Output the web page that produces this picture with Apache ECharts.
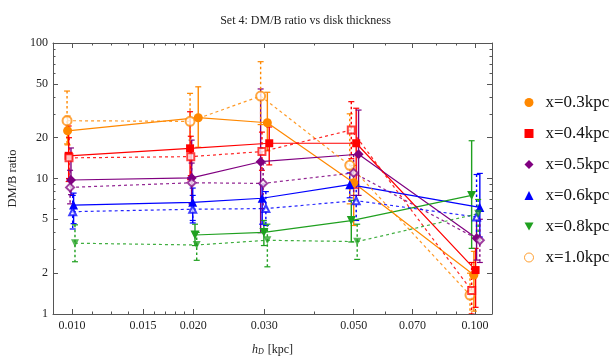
<!DOCTYPE html>
<html>
<head>
<meta charset="utf-8">
<script src="https://cdn.jsdelivr.net/npm/echarts@6/dist/echarts.min.js"></script>
<style>
  html, body { margin: 0; padding: 0; background: #fff; }
  #chart { width: 611px; height: 356px; }
</style>
</head>
<body>
<div id="chart"></div>
<script>
// rows: [hD (kpc), DM/B ratio, lower, upper] - points are shifted a little in hD like in the figure
const orangeSolid = [[0.00975, 22.5, 17.7, 28.9], [0.02057, 28.1, 17.0, 47.5], [0.03053, 25.8, 16.0, 43.3], [0.05000, 9.3, 4.5, 12.5], [0.09935, 1.94, 1.05, 2.9]]
const redSolid = [[0.00981, 14.7, 9.5, 24.4], [0.01963, 16.7, 9.8, 31.1], [0.03086, 18.2, 12.6, 24.0], [0.05072, 18.2, 8.5, 33.0], [0.10033, 2.11, 1.12, 3.05]]
const purpleSolid = [[0.00994, 9.75, 7.6, 16.8], [0.01981, 10.1, 6.5, 19.2], [0.02938, 13.3, 3.98, 45.8], [0.05141, 15.1, 7.5, 32.0], [0.10090, 3.62, 2.5, 5.0]]
const blueSolid = [[0.01009, 6.37, 4.64, 7.8], [0.01993, 6.67, 4.9, 8.5], [0.02964, 7.15, 4.6, 9.0], [0.04888, 9.0, 7.2, 11.0], [0.10280, 6.12, 3.7, 10.9]]
const greenSolid = [[0.02019, 3.83, 3.2, 4.6], [0.02993, 4.0, 3.2, 4.9], [0.04932, 4.89, 3.4, 6.9], [0.09810, 7.5, 3.05, 19.0]]

const orangeDashed = [[0.00972, 26.7, 18.0, 44.2], [0.01963, 26.4, 17.0, 42.5], [0.02938, 40.6, 25.0, 72.8], [0.04888, 12.5, 6.5, 30.0], [0.09718, 1.38, 0.9, 2.0]]
const redDashed = [[0.00983, 14.2, 10.0, 20.0], [0.01971, 14.5, 10.5, 20.5], [0.02960, 15.8, 11.5, 22.0], [0.04932, 22.8, 14.0, 36.9], [0.09810, 1.49, 1.0, 2.4]]
const purpleDashed = [[0.00989, 8.6, 6.5, 11.5], [0.01981, 9.3, 6.5, 13.0], [0.02980, 9.2, 6.0, 13.0], [0.04998, 11.0, 7.5, 15.0], [0.10280, 3.5, 2.4, 5.0]]
const blueDashed = [[0.01004, 5.69, 4.24, 7.5], [0.01993, 5.93, 4.7, 7.5], [0.03027, 6.0, 4.5, 8.0], [0.05072, 6.86, 4.9, 9.0], [0.10090, 5.2, 3.6, 10.7]]
const greenDashed = [[0.01017, 3.33, 2.43, 4.55], [0.02039, 3.23, 2.49, 4.0], [0.03053, 3.5, 2.23, 4.6], [0.05101, 3.42, 2.53, 4.6], [0.10182, 5.5, 3.5, 7.0]]

const legendNames = ['x=0.3kpc', 'x=0.4kpc', 'x=0.5kpc', 'x=0.6kpc', 'x=0.8kpc', 'x=1.0kpc']

const xMajorTicks = [0.010, 0.015, 0.020, 0.030, 0.050, 0.070, 0.100]
const xMinorTicks = [0.01125, 0.0125, 0.01375, 0.016, 0.017, 0.018, 0.019, 0.040, 0.060, 0.080, 0.090]
const yMajorTicks = [1, 2, 5, 10, 20, 50, 100]
const yMinorTicks = [3, 4, 6, 7, 8, 9, 30, 40, 60, 70, 80, 90]

const ORANGE = '#ff8800'
const RED = '#ff0000'
const PURPLE = '#800080'
const BLUE = '#0000ff'
const GREEN = '#1fa01f'
const FRAME = '#555555'
const FONT = 'Liberation Serif'
const DOWN_TRI = 'path://M0,0L10,0L5,9Z'

const lg = (v) => Math.log10(v)
const X_MIN = lg(0.00897)
const X_MAX = lg(0.1102)

const seriesDefs = [
  { name: 'x=0.3kpc', rows: orangeSolid, color: ORANGE, dashed: false, symbol: 'circle', size: 9 },
  { name: 'x=0.4kpc', rows: redSolid, color: RED, dashed: false, symbol: 'rect', size: 8 },
  { name: 'x=0.5kpc', rows: purpleSolid, color: PURPLE, dashed: false, symbol: 'diamond', size: 10 },
  { name: 'x=0.6kpc', rows: blueSolid, color: BLUE, dashed: false, symbol: 'triangle', size: 9 },
  { name: 'x=0.8kpc', rows: greenSolid, color: GREEN, dashed: false, symbol: DOWN_TRI, size: 9 },
  { name: 'x=1.0kpc', rows: orangeDashed, color: ORANGE, dashed: true, symbol: 'emptyCircle', size: 9 },
  { name: 'red dashed', rows: redDashed, color: RED, dashed: true, symbol: 'emptyRect', size: 7 },
  { name: 'purple dashed', rows: purpleDashed, color: PURPLE, dashed: true, symbol: 'emptyDiamond', size: 8 },
  { name: 'blue dashed', rows: blueDashed, color: BLUE, dashed: true, symbol: 'emptyTriangle', size: 7 },
  { name: 'green dashed', rows: greenDashed, color: GREEN, dashed: true, symbol: DOWN_TRI, size: 8 },
]

function lineSeries(def) {
  return {
    type: 'line',
    name: def.name,
    data: def.rows.map((r) => [lg(r[0]), lg(r[1])]),
    symbol: def.symbol,
    symbolSize: def.size,
    color: def.color,
    itemStyle: { color: def.color, borderWidth: def.dashed ? 0.8 : 0, opacity: def.dashed ? 0.75 : 1 },
    lineStyle: { color: def.color, width: 1.2, type: def.dashed ? [3, 3] : 'solid', opacity: def.dashed ? 0.85 : 1 },
    z: 4,
  }
}

function errorBarSeries(def) {
  return {
    type: 'custom',
    name: def.name + ' err',
    clip: true,
    silent: true,
    z: 3,
    data: def.rows.map((r) => [lg(r[0]), lg(r[2]), lg(r[3])]),
    encode: { x: 0, y: [1, 2] },
    renderItem: (params, api) => {
      const x = api.value(0)
      const hi = api.coord([x, api.value(2)])
      const lo = api.coord([x, api.value(1)])
      const cap = 3
      const capStyle = { stroke: def.color, lineWidth: 1.2 }
      return {
        type: 'group',
        children: [
          { type: 'line', shape: { x1: hi[0], y1: hi[1], x2: lo[0], y2: lo[1] },
            style: { stroke: def.color, lineWidth: 1.4, lineDash: def.dashed ? [2.5, 2.5] : null } },
          { type: 'line', shape: { x1: hi[0] - cap, y1: hi[1], x2: hi[0] + cap, y2: hi[1] }, style: capStyle },
          { type: 'line', shape: { x1: lo[0] - cap, y1: lo[1], x2: lo[0] + cap, y2: lo[1] }, style: capStyle },
        ],
      }
    },
  }
}

function tickAxis(kind, position, ticks, len, extra) {
  const base = {
    type: 'value',
    position,
    min: kind === 'x' ? X_MIN : 0,
    max: kind === 'x' ? X_MAX : 2,
    axisLine: { show: false, onZero: false },
    axisTick: { show: true, inside: true, length: len, customValues: ticks.map(lg), lineStyle: { color: FRAME, width: 1 } },
    axisLabel: { show: false },
    splitLine: { show: false },
  }
  return Object.assign(base, extra || {})
}

const labelStyle = { fontFamily: FONT, fontSize: 12, color: '#222' }

const xAxes = [
  tickAxis('x', 'bottom', xMajorTicks, 5, {
    axisLine: { show: true, onZero: false, lineStyle: { color: FRAME, width: 1 } },
    axisLabel: Object.assign({ show: true, customValues: xMajorTicks.map(lg), margin: 6,
      formatter: (v) => Math.pow(10, v).toFixed(3) }, labelStyle),
    name: '{i|h}{s|D} [kpc]',
    nameLocation: 'middle',
    nameGap: 29,
    nameTextStyle: {
      fontFamily: FONT, fontSize: 12, color: '#222',
      rich: {
        i: { fontFamily: FONT, fontSize: 12, fontStyle: 'italic', color: '#222' },
        s: { fontFamily: FONT, fontSize: 8, fontStyle: 'italic', color: '#222', verticalAlign: 'bottom', padding: [5, 1, 0, 0] },
      },
    },
  }),
  tickAxis('x', 'bottom', xMinorTicks, 2.5),
  tickAxis('x', 'top', xMajorTicks, 5, { axisLine: { show: true, onZero: false, lineStyle: { color: FRAME, width: 1 } } }),
  tickAxis('x', 'top', xMinorTicks, 2.5),
]

const yAxes = [
  tickAxis('y', 'left', yMajorTicks, 5, {
    axisLine: { show: true, onZero: false, lineStyle: { color: FRAME, width: 1 } },
    axisLabel: Object.assign({ show: true, customValues: yMajorTicks.map(lg), margin: 5,
      formatter: (v) => String(Math.round(Math.pow(10, v))) }, labelStyle),
    name: 'DM/B ratio',
    nameLocation: 'middle',
    nameGap: 29,
    nameTextStyle: { fontFamily: FONT, fontSize: 12.5, color: '#222' },
  }),
  tickAxis('y', 'left', yMinorTicks, 2.5),
  tickAxis('y', 'right', yMajorTicks, 5, { axisLine: { show: true, onZero: false, lineStyle: { color: FRAME, width: 1 } } }),
  tickAxis('y', 'right', yMinorTicks, 2.5),
]

const legendIcons = ['circle', 'rect', 'diamond', 'triangle', DOWN_TRI, 'circle']
const legendData = legendNames.map((name, i) => {
  const item = { name, icon: legendIcons[i] }
  if (i === 5) item.itemStyle = { color: '#ffffff', borderColor: ORANGE, borderWidth: 1, opacity: 0.8 }
  return item
})

const series = []
seriesDefs.forEach((def) => series.push(lineSeries(def)))
seriesDefs.forEach((def) => series.push(errorBarSeries(def)))

const chart = echarts.init(document.getElementById('chart'), null, { renderer: 'canvas' })
chart.setOption({
  animation: false,
  backgroundColor: '#ffffff',
  title: {
    text: 'Set 4: DM/B ratio vs disk thickness',
    left: 'center',
    top: 10,
    textStyle: { fontFamily: FONT, fontSize: 12, fontWeight: 'normal', color: '#222' },
  },
  grid: { left: 53, right: 119, top: 43, bottom: 42, outerBoundsMode: 'none' },
  legend: {
    orient: 'vertical',
    left: 519,
    top: 89,
    itemWidth: 9,
    itemHeight: 9,
    itemGap: 14,
    data: legendData,
    textStyle: { fontFamily: FONT, fontSize: 17, color: '#111', lineHeight: 17, padding: [0, 0, 0, 7] },
  },
  xAxis: xAxes,
  yAxis: yAxes,
  series,
})
</script>
</body>
</html>
